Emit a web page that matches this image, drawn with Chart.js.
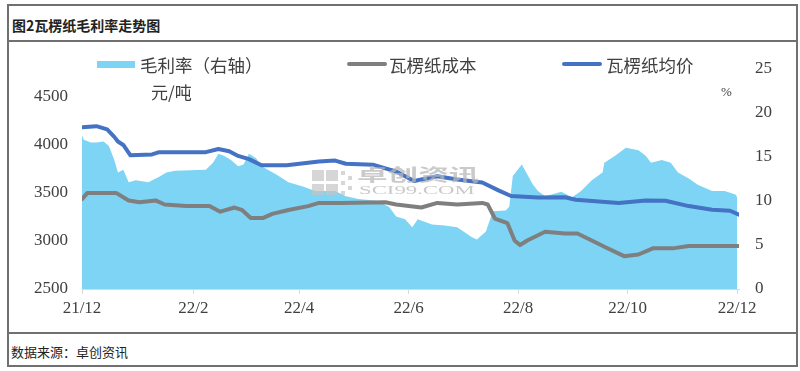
<!DOCTYPE html>
<html>
<head>
<meta charset="utf-8">
<script src="https://cdn.jsdelivr.net/npm/chart.js@4.4.0/dist/chart.umd.min.js"></script>
<style>
  body { margin: 0; width: 800px; height: 371px; position: relative; overflow: hidden; background: #fff;
         font-family: "Noto Sans CJK SC", sans-serif; color: #404040; }
  .frame { position: absolute; left: 7px; top: 4px; width: 791px; height: 363px; box-sizing: border-box; border: 2px solid #707070; }
  .hline { position: absolute; left: 7px; width: 791px; height: 2px; background: #707070; }
  .title { position: absolute; left: 12px; top: 16px; font-size: 14px; line-height: 18px; font-weight: bold; color: #222; }
  .footer { position: absolute; left: 11px; top: 343px; font-size: 13px; line-height: 18px; color: #222; }
  .chartBox { position: absolute; left: 0; top: 42px; width: 800px; height: 290px; }
  .lg { position: absolute; font-size: 17.5px; line-height: 20px; top: 55px; color: #404040; white-space: nowrap; }
  .sw { position: absolute; }
  .unit { position: absolute; white-space: nowrap; }
  .wm { position: absolute; color: #b8b8b8; opacity: 0.75; white-space: nowrap; transform-origin: left top; }
  .sq { position: absolute; background: #c4c4c4; opacity: 0.7; }
</style>
</head>
<body>
<div class="frame"></div>
<div class="hline" style="top:40px"></div>
<div class="hline" style="top:332px"></div>
<div class="title">图2瓦楞纸毛利率走势图</div>
<div class="footer">数据来源：卓创资讯</div>

<div class="chartBox"><canvas id="chart" width="800" height="290"></canvas></div>

<div class="sw" style="left:97px;top:61px;width:38px;height:7px;background:#7dd4f4"></div>
<div class="lg" style="left:140px">毛利率（右轴）</div>
<div class="sw" style="left:347px;top:62px;width:40px;height:4px;background:#7f7f7f;border-radius:2px"></div>
<div class="lg" style="left:389px">瓦楞纸成本</div>
<div class="sw" style="left:562px;top:62px;width:40px;height:4px;background:#4472c4;border-radius:2px"></div>
<div class="lg" style="left:606px">瓦楞纸均价</div>
<div class="unit" style="left:151px;top:82px;font-size:17px;line-height:20px">元/吨</div>
<div class="unit" style="left:721px;top:84px;font-size:13px;line-height:16px;font-family:'Liberation Serif',serif">%</div>

<div class="sq" style="left:312px;top:170px;width:12px;height:11px"></div>
<div class="sq" style="left:326px;top:170px;width:12px;height:11px"></div>
<div class="sq" style="left:312px;top:184px;width:12px;height:11px"></div>
<div class="sq" style="left:326px;top:184px;width:12px;height:11px"></div>
<div class="sq" style="left:341px;top:171px;width:4px;height:4px"></div>
<div class="sq" style="left:348px;top:176px;width:4px;height:4px"></div>
<div class="sq" style="left:341px;top:181px;width:4px;height:4px"></div>
<div class="sq" style="left:348px;top:186px;width:4px;height:4px"></div>
<div class="sq" style="left:341px;top:191px;width:4px;height:4px"></div>
<div class="wm" style="left:357px;top:164px;font-size:17px;line-height:19px;font-weight:bold;transform:scaleX(1.8)">卓创资讯</div>
<div class="wm" style="left:359px;top:183px;font-size:13px;line-height:14px;font-family:'Liberation Serif',serif;transform:scaleX(1.75)">SCI99.COM</div>

<script>
// x positions are days counted from 2021-12-01
const tickDays = [0, 62, 121, 182, 243, 304, 365];
const tickLabels = ['21/12', '22/2', '22/4', '22/6', '22/8', '22/10', '22/12'];
const leftTicks = [2500, 3000, 3500, 4000, 4500];

// 毛利率 (%), right axis
const marginDays = [0, 1, 5, 8, 12, 15, 18, 20, 23, 26, 30, 37, 43, 47, 52, 69, 73, 76, 79, 83, 87, 90, 93, 97,
  100, 108, 115, 123, 130, 141, 147, 154, 164, 171, 175, 180, 184, 187, 195, 202, 209, 217, 220, 225, 227, 229,
  236, 238, 240, 245, 248, 251, 254, 258, 267, 273, 278, 284, 290, 291, 297, 303, 310, 314, 317, 323, 328, 332,
  338, 343, 351, 358, 364, 365];
const marginValues = [17.4, 16.9, 16.6, 16.6, 16.7, 16.2, 14.6, 13.2, 13.5, 12.1, 12.3, 12.1, 12.7, 13.2, 13.4,
  13.5, 14.3, 15.3, 15.1, 14.6, 13.9, 14.1, 15.3, 14.8, 13.9, 13.0, 12.1, 11.6, 11.1, 11.1, 10.5, 10.2, 10.0, 9.3,
  8.2, 7.9, 7.0, 7.9, 7.3, 7.2, 7.0, 5.9, 5.6, 6.5, 7.7, 8.8, 8.9, 9.3, 12.8, 14.1, 13.0, 11.9, 11.1, 10.5, 11.0,
  10.4, 11.1, 12.3, 13.2, 14.3, 15.1, 16.0, 15.7, 15.1, 14.3, 14.6, 14.3, 13.2, 12.5, 11.8, 11.1, 11.1, 10.7, 10.4];

// 瓦楞纸成本 (元/吨)
const costDays = [0, 3, 19, 26, 32, 41, 46, 58, 71, 77, 85, 89, 94, 101, 106, 115, 126, 132, 145, 169, 175, 182,
  189, 198, 209, 223, 226, 230, 237, 241, 244, 248, 258, 269, 276, 284, 291, 302, 310, 318, 329, 338, 366];
const costValues = [3434, 3498, 3498, 3420, 3400, 3420, 3378, 3361, 3361, 3303, 3346, 3322, 3238, 3238, 3280, 3320,
  3361, 3394, 3394, 3400, 3378, 3361, 3346, 3394, 3378, 3394, 3378, 3232, 3183, 3004, 2956, 3004, 3095, 3076, 3076,
  3004, 2939, 2841, 2858, 2922, 2922, 2946, 2946];

// 瓦楞纸均价 (元/吨)
const priceDays = [0, 8, 14, 18, 20, 23, 27, 39, 43, 69, 76, 82, 87, 93, 100, 114, 126, 132, 141, 147, 162, 169,
  175, 180, 185, 198, 209, 223, 232, 239, 254, 269, 275, 299, 314, 325, 338, 351, 361, 366];
const priceValues = [4181, 4191, 4158, 4080, 4032, 3996, 3888, 3898, 3921, 3921, 3954, 3931, 3882, 3849, 3785, 3785,
  3810, 3825, 3834, 3801, 3791, 3752, 3720, 3671, 3622, 3671, 3638, 3606, 3524, 3466, 3449, 3453, 3427, 3394, 3420,
  3417, 3361, 3322, 3313, 3271];

const toPoints = (days, values) => days.map((d, i) => ({ x: d, y: values[i] }));

const tickFont = { family: "'Liberation Serif', serif", size: 17 };

new Chart(document.getElementById('chart'), {
  type: 'line',
  data: {
    datasets: [
      {
        label: '毛利率（右轴）',
        data: toPoints(marginDays, marginValues),
        yAxisID: 'y1',
        fill: 'start',
        backgroundColor: '#7dd4f4',
        borderWidth: 0,
        pointRadius: 0,
        tension: 0,
        order: 3,
      },
      {
        label: '瓦楞纸成本',
        data: toPoints(costDays, costValues),
        yAxisID: 'y',
        borderColor: '#7f7f7f',
        borderWidth: 4,
        borderJoinStyle: 'round',
        borderCapStyle: 'round',
        pointRadius: 0,
        fill: false,
        tension: 0,
        order: 2,
      },
      {
        label: '瓦楞纸均价',
        data: toPoints(priceDays, priceValues),
        yAxisID: 'y',
        borderColor: '#4472c4',
        borderWidth: 4,
        borderJoinStyle: 'round',
        borderCapStyle: 'round',
        pointRadius: 0,
        fill: false,
        tension: 0,
        order: 1,
      },
    ],
  },
  options: {
    responsive: false,
    animation: false,
    devicePixelRatio: 1,
    layout: { padding: { top: 12, left: 0, right: 0, bottom: 0 } },
    plugins: { legend: { display: false }, tooltip: { enabled: false } },
    scales: {
      x: {
        type: 'linear',
        min: 0,
        max: 366,
        afterBuildTicks: (scale) => { scale.ticks = tickDays.map((v) => ({ value: v })); },
        afterFit: (scale) => { scale.height = 43; },
        ticks: {
          autoSkip: false,
          maxRotation: 0,
          padding: 4,
          color: '#404040',
          font: tickFont,
          callback: (value, index) => tickLabels[index],
        },
        grid: { drawOnChartArea: false, drawTicks: true, tickLength: 5, color: '#d9d9d9' },
        border: { color: '#d9d9d9', width: 1 },
      },
      y: {
        position: 'left',
        min: 2500,
        max: 4793,
        afterBuildTicks: (scale) => { scale.ticks = leftTicks.map((v) => ({ value: v })); },
        afterFit: (scale) => { scale.width = 82; },
        ticks: { padding: 14, color: '#404040', font: tickFont, callback: (value) => String(value) },
        grid: { display: false, drawTicks: false },
        border: { display: false },
      },
      y1: {
        position: 'right',
        min: 0,
        max: 25,
        afterFit: (scale) => { scale.width = 61; },
        ticks: { stepSize: 5, padding: 16, color: '#404040', font: tickFont, callback: (value) => String(value) },
        grid: { display: false, drawTicks: false },
        border: { display: false },
      },
    },
  },
});
</script>
</body>
</html>
